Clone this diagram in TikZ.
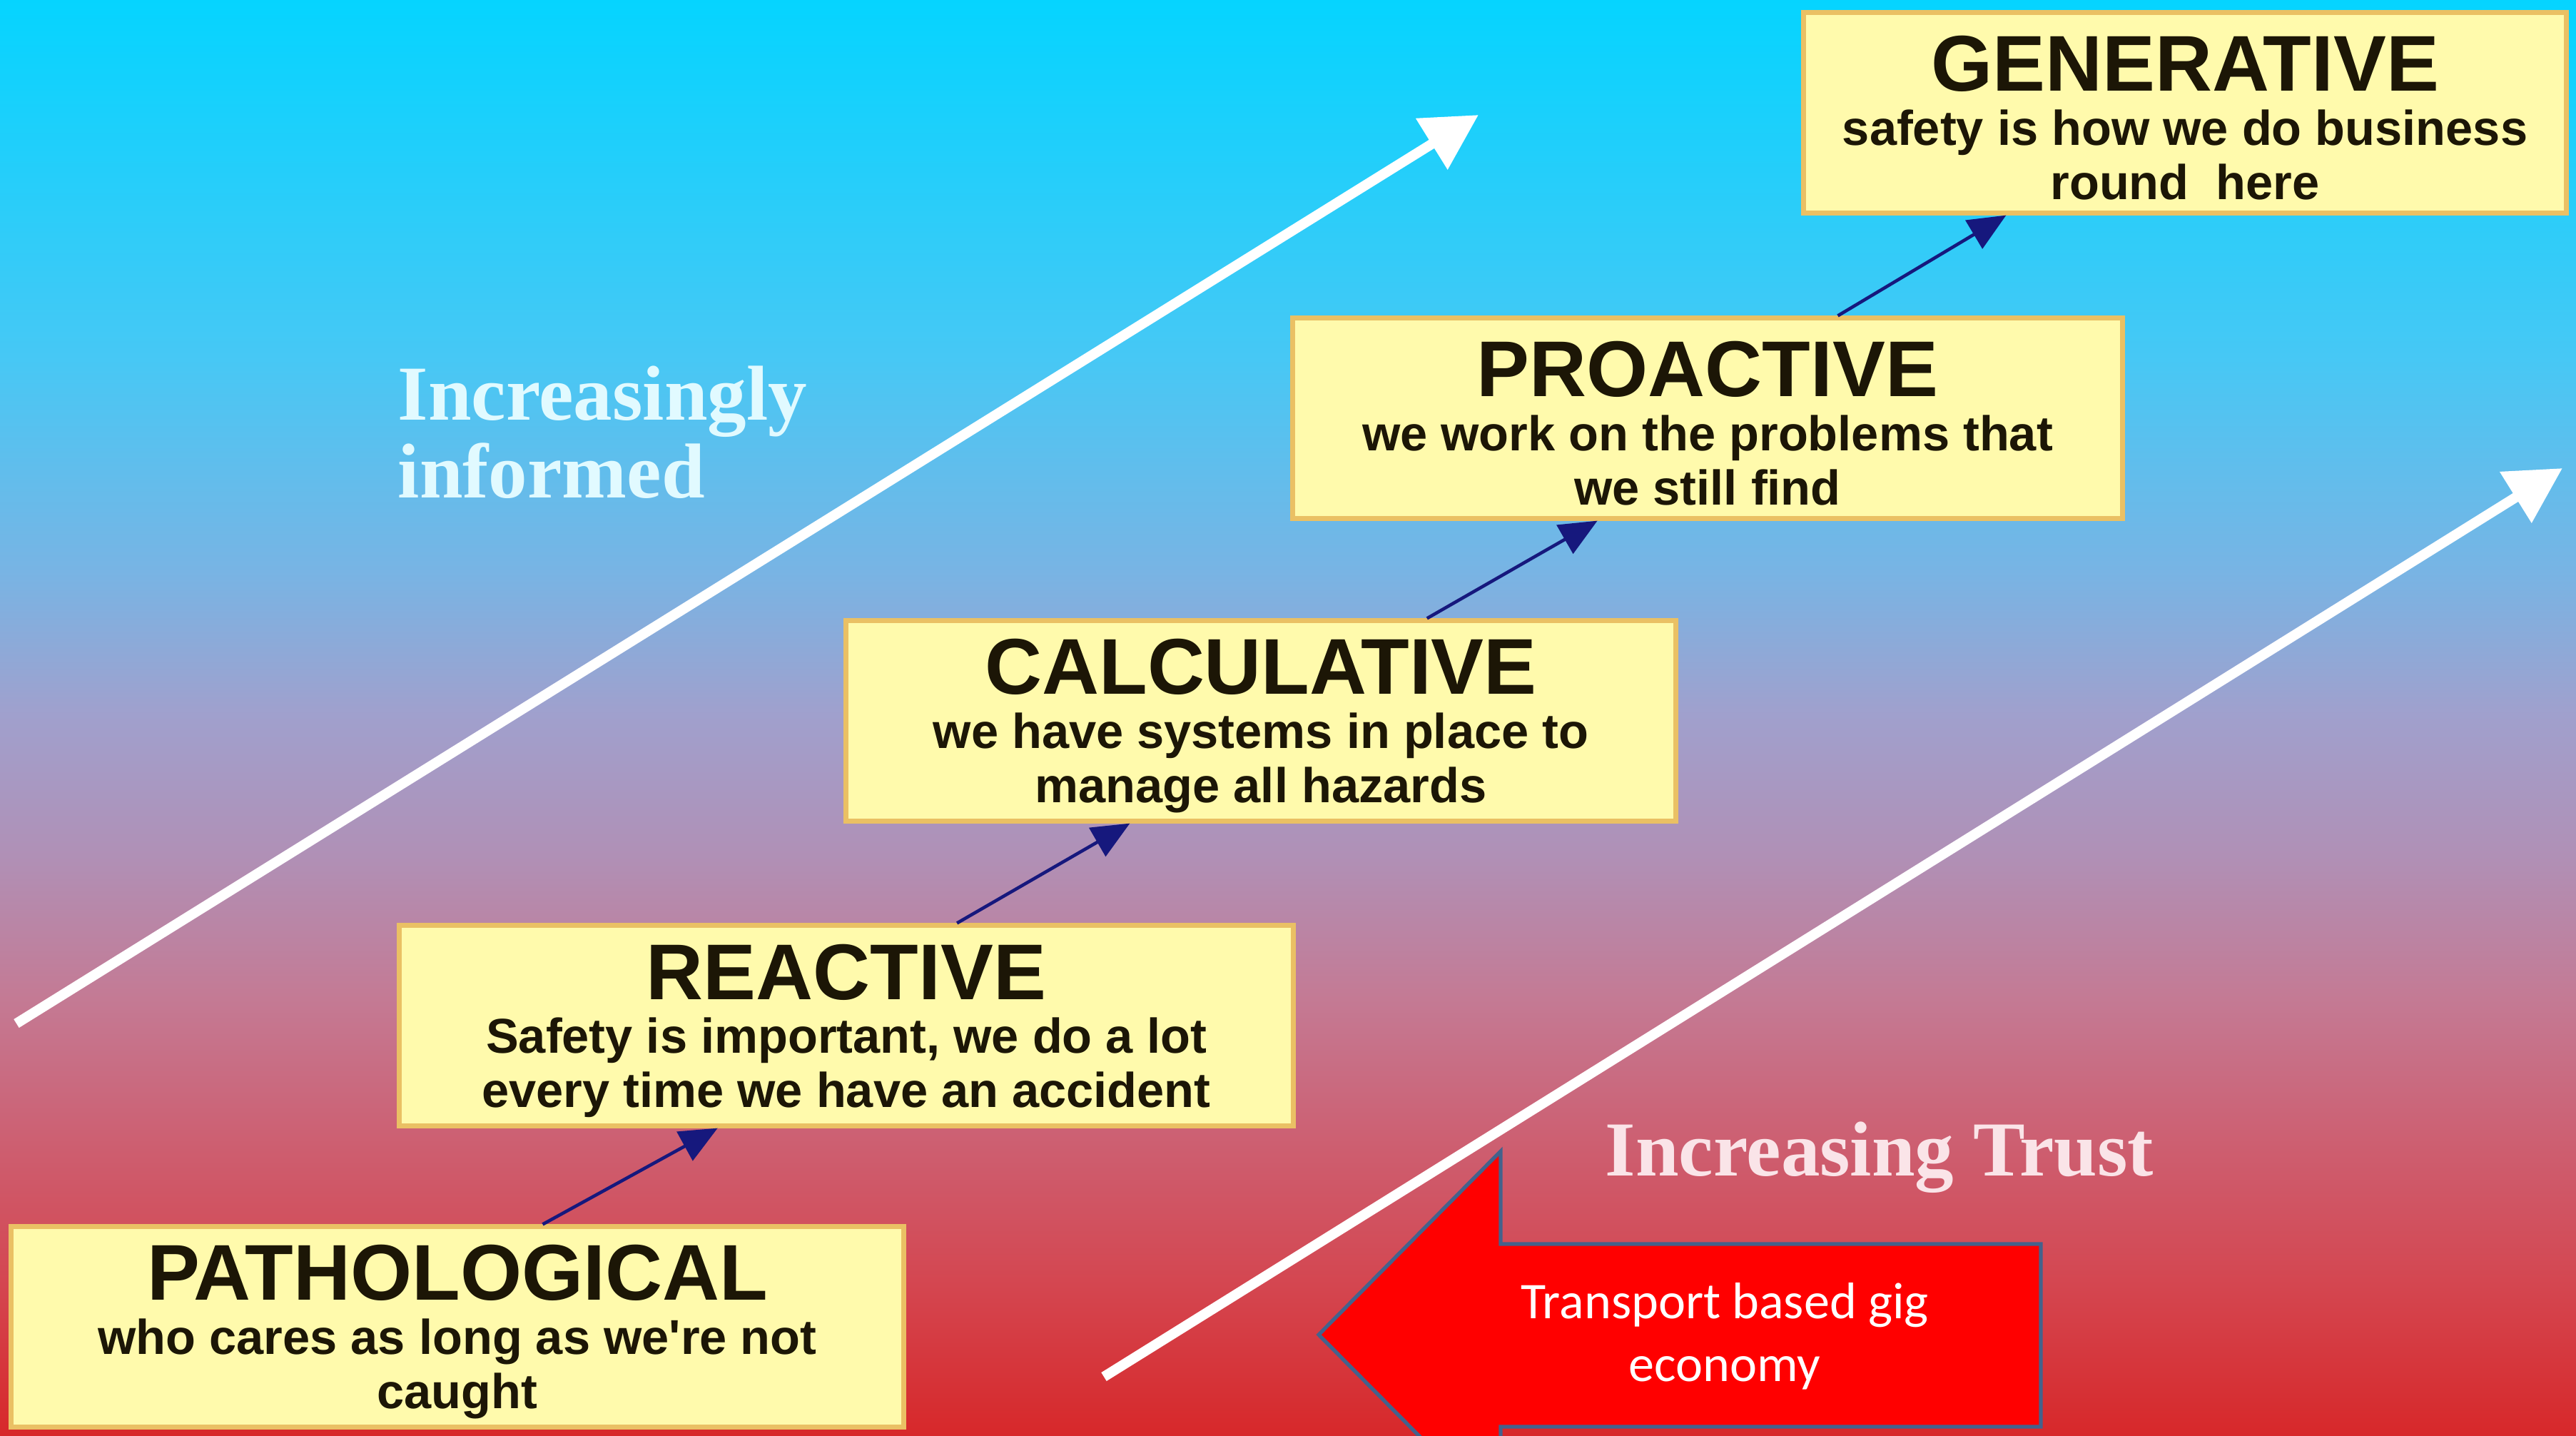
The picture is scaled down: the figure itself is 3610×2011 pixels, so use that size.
\documentclass[tikz,border=0pt]{standalone}
\usepackage{fontspec}
\setmainfont{Liberation Sans}
\newfontfamily\labelserif{Liberation Serif}
\newfontfamily\calloutfont{Carlito}
\usepackage{tikz}
\usetikzlibrary{positioning,calc,arrows.meta}
\definecolor{paleyellow}{RGB}{255,250,172}
\definecolor{boxedge}{RGB}{234,192,100}
\definecolor{inkdark}{RGB}{28,22,6}
\definecolor{stepblue}{RGB}{22,24,125}
\definecolor{gigedge}{RGB}{68,98,140}
\definecolor{informtext}{RGB}{225,250,255}
\definecolor{trusttext}{RGB}{250,228,232}
% sky to red backdrop, the picture spans 25bp..75bp
\pgfdeclareverticalshading{skyfade}{100bp}{%
  color(0bp)=(rgb,255:red,215;green,40;blue,42);
  color(25bp)=(rgb,255:red,215;green,40;blue,42);
  color(30.25bp)=(rgb,255:red,212;green,70;blue,80);
  color(35.2bp)=(rgb,255:red,205;green,95;blue,113);
  color(40.2bp)=(rgb,255:red,196;green,122;blue,148);
  color(45.2bp)=(rgb,255:red,176;green,144;blue,182);
  color(50.1bp)=(rgb,255:red,160;green,160;blue,205);
  color(55.1bp)=(rgb,255:red,120;green,180;blue,228);
  color(62.6bp)=(rgb,255:red,70;green,200;blue,245);
  color(75bp)=(rgb,255:red,5;green,212;blue,255);
  color(100bp)=(rgb,255:red,5;green,212;blue,255)}
\newcommand{\subtext}{\fontsize{19.5}{21.5}\selectfont\bfseries}
\newcommand{\stagetitle}[1]{{\fontsize{31.5}{31.5}\selectfont\rule{0pt}{26pt}#1}}
\tikzstyle{stage}=[%
      rectangle, draw=boxedge, line width=2pt, fill=paleyellow, text=inkdark,
      align=center, inner sep=0pt, minimum height=2.8cm, font=\subtext
]
\tikzstyle{climb}=[%
      draw=stepblue, line width=1.3pt, -{Triangle[length=15pt,width=13pt]}
]
\tikzstyle{trend}=[%
      draw=white, line width=4pt, -{Triangle[length=22pt,width=23pt]}
]
\tikzstyle{sidelabel}=[%
      font=\labelserif\fontsize{31}{31}\selectfont\bfseries, align=left, anchor=west, inner sep=0pt
]

\begin{document}
\begin{tikzpicture}[x=0.01cm, y=-0.01cm]
    \useasboundingbox (0,0) rectangle (3610,2011);
    \clip (0,0) rectangle (3610,2011);
    \shade[shading=skyfade] (0,0) rectangle (3610,2011);

    % the five stages
    \node[stage, minimum width=12.5cm]  (patho)      at (641,1859)  {\stagetitle{PATHOLOGICAL}\\who cares as long as we\textquotesingle re not\\caught};
    \node[stage, minimum width=12.53cm] (reactive)   at (1186,1437) {\stagetitle{REACTIVE}\\Safety is important, we do a lot\\every time we have an accident};
    \node[stage, minimum width=11.62cm] (calc)       at (1767,1010) {\stagetitle{CALCULATIVE}\\we have systems in place to\\manage all hazards};
    \node[stage, minimum width=11.62cm] (proactive)  at (2393,586)  {\stagetitle{PROACTIVE}\\we work on the problems that\\we still find};
    \node[stage, minimum width=10.68cm] (generative) at (3062,158)  {\stagetitle{GENERATIVE}\\safety is how we do business\\round\ \ here};

    \draw[climb] ($(patho.north west)!0.595!(patho.north east)$) -- ($(reactive.south west)!0.357!(reactive.south east)$);
    \draw[climb] ($(reactive.north west)!0.623!(reactive.north east)$) -- ($(calc.south west)!0.343!(calc.south east)$);
    \draw[climb] ($(calc.north west)!0.699!(calc.north east)$) -- ($(proactive.south west)!0.368!(proactive.south east)$);
    \draw[climb] ($(proactive.north west)!0.656!(proactive.north east)$) -- ($(generative.south west)!0.267!(generative.south east)$);

    % the two trends
    \coordinate (inf0) at (23,1434);
    \coordinate (inf1) at (2072,161);
    \coordinate (tru0) at (1547,1929);
    \coordinate (tru1) at (3591,656);
    \draw[trend] (inf0) -- (inf1);
    \draw[trend] (tru0) -- (tru1);
    \node[sidelabel, text=informtext] (informed) at (557,606) {Increasingly\\informed};
    \node[sidelabel, text=trusttext]  (trust)    at (2249,1622) {Increasing Trust};

    % gig economy callout
    \fill[red, draw=gigedge, line width=1.5pt] (1848,1870) -- (2103,1613) -- (2103,1743) -- (2860,1743)
          -- (2860,1999) -- (2103,1999) -- (2103,2127) -- cycle;
    \node[font=\calloutfont\fontsize{20.5}{25}\selectfont, text=white, align=center] (gig) at (2417,1872) {Transport based gig\\economy};
\end{tikzpicture}
\end{document}
